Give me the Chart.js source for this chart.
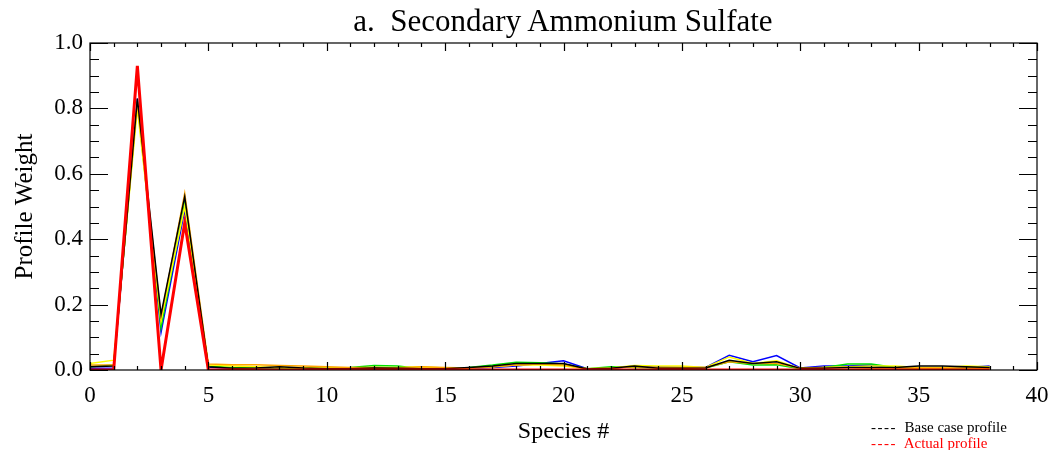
<!DOCTYPE html>
<html>
<head>
<meta charset="utf-8">
<script src="https://cdn.jsdelivr.net/npm/chart.js@4.4.1/dist/chart.umd.min.js"></script>
<style>
    html, body { margin: 0; padding: 0; background: #fff; }
    #wrap { position: relative; width: 1053px; height: 450px; }
    .title { position: absolute; left: 263px; width: 600px; top: 3px; text-align: center; font-family: 'Liberation Serif', serif; font-size: 31px; line-height: 36px; color: #000; }
    .legend { position: absolute; left: 871px; font-family: 'Liberation Serif', serif; font-size: 15px; line-height: 16px; white-space: pre; }
    .legend span { letter-spacing: 1.5px; }
</style>
</head>
<body>
<div id="wrap">
    <canvas id="chart" width="1053" height="450"></canvas>
    <div class="title">a.&nbsp; Secondary Ammonium Sulfate</div>
    <div class="legend" style="top:419px;color:#000"><span>----</span>  Base case profile</div>
    <div class="legend" style="top:435px;color:#ff0000"><span>----</span>  Actual profile</div>
</div>
<script>
// ── Data ──
const species = [0,1,2,3,4,5,6,7,8,9,10,11,12,13,14,15,16,17,18,19,20,21,22,23,24,25,26,27,28,29,30,31,32,33,34,35,36,37,38];

const actualProfile = [0,0,0.93,0,0.45,0,0,0,0,0,0,0,0,0,0,0,0,0,0,0,0,0,0,0,0,0,0,0,0,0,0,0,0,0,0,0,0,0,0];
const baseProfile   = [0.010,0.012,0.83,0.17,0.53,0.010,0.005,0.006,0.010,0.006,0.004,0.004,0.006,0.005,0.004,0.004,0.008,0.012,0.020,0.020,0.020,0.003,0.005,0.012,0.005,0.005,0.006,0.030,0.020,0.025,0.005,0.005,0.008,0.008,0.008,0.012,0.012,0.010,0.008];
const runBlue       = [0.005,0.006,0.83,0.115,0.49,0.008,0.005,0.004,0.005,0.004,0.003,0.004,0.004,0.003,0.002,0.003,0.005,0.008,0.012,0.020,0.028,0.004,0.004,0.012,0.010,0.008,0.008,0.045,0.025,0.044,0.006,0.012,0.012,0.015,0.006,0.002,0.004,0.008,0.012];
const runGreen      = [0.010,0.015,0.82,0.13,0.51,0.012,0.008,0.006,0.006,0.004,0.006,0.008,0.014,0.012,0.004,0.004,0.008,0.015,0.024,0.022,0.018,0.004,0.010,0.008,0.006,0.005,0.006,0.025,0.015,0.016,0.004,0.008,0.018,0.018,0.008,0.004,0.003,0.006,0.006];
const runYellow     = [0.020,0.030,0.80,0.15,0.50,0.015,0.012,0.010,0.008,0.008,0.006,0.006,0.008,0.008,0.010,0.006,0.006,0.010,0.015,0.015,0.012,0.004,0.006,0.014,0.012,0.012,0.008,0.040,0.020,0.028,0.005,0.008,0.010,0.012,0.012,0.008,0.008,0.012,0.010];
const runOrange     = [0.015,0.015,0.82,0.16,0.54,0.018,0.016,0.016,0.014,0.012,0.010,0.008,0.008,0.006,0.010,0.008,0.006,0.010,0.015,0.018,0.015,0.004,0.005,0.010,0.008,0.008,0.008,0.025,0.020,0.020,0.006,0.008,0.008,0.006,0.006,0.006,0.006,0.006,0.005];

const xTicks = [0,5,10,15,20,25,30,35,40];
const yTicks = [0,0.2,0.4,0.6,0.8,1.0];

const serif = "'Liberation Serif', 'Times New Roman', serif";

// ── Build series ──
function pts(values) {
    return species.map((s, i) => ({ x: s, y: values[i] }));
}

function series(label, values, color, width, order) {
    return {
        label: label,
        data: pts(values),
        borderColor: color,
        backgroundColor: color,
        borderWidth: width,
        pointRadius: 0,
        showLine: true,
        tension: 0,
        order: order
    };
}

// ── IDL-style box with inward ticks ──
const boxPlugin = {
    id: 'idlBox',
    afterDatasetsDraw(chart) {
        const { ctx, chartArea: a, scales } = chart;
        const xs = scales.x, ys = scales.y;
        ctx.save();
        ctx.strokeStyle = '#000';
        ctx.lineWidth = 1.2;
        ctx.strokeRect(a.left, a.top, a.right - a.left, a.bottom - a.top);
        ctx.beginPath();
        for (let v = 0; v <= 40; v += 1) {
            const px = Math.round(xs.getPixelForValue(v)) + 0.5;
            const len = v % 5 === 0 ? 8 : 4;
            ctx.moveTo(px, a.bottom); ctx.lineTo(px, a.bottom - len);
            ctx.moveTo(px, a.top); ctx.lineTo(px, a.top + len);
        }
        for (let i = 0; i <= 20; i++) {
            const v = i * 0.05;
            const py = Math.round(ys.getPixelForValue(v)) + 0.5;
            const len = i % 4 === 0 ? 18 : 9;
            ctx.moveTo(a.left, py); ctx.lineTo(a.left + len, py);
            ctx.moveTo(a.right, py); ctx.lineTo(a.right - len, py);
        }
        ctx.stroke();
        ctx.restore();
    }
};

const chart = new Chart(document.getElementById('chart'), {
    type: 'scatter',
    data: {
        datasets: [
            series('Actual profile', actualProfile, '#ff0000', 3, 0),
            series('Base case profile', baseProfile, '#000000', 1.5, 1),
            series('Run 1', runBlue, '#0000ff', 1.5, 5),
            series('Run 2', runGreen, '#00e000', 1.5, 4),
            series('Run 3', runYellow, '#ffff00', 1.5, 3),
            series('Run 4', runOrange, '#ffa500', 1.5, 2)
        ]
    },
    options: {
        responsive: false,
        animation: false,
        layout: { padding: { left: 0, right: 16, top: 43, bottom: 0 } },
        plugins: {
            legend: { display: false },
            tooltip: { enabled: false },
            title: { display: false }
        },
        scales: {
            x: {
                type: 'linear',
                min: 0,
                max: 40,
                afterBuildTicks: (s) => { s.ticks = xTicks.map(v => ({ value: v })); },
                afterFit: (s) => { s.height = 80; s.paddingLeft = 0; s.paddingRight = 0; },
                grid: { display: false, drawTicks: false },
                border: { display: false },
                ticks: { color: '#000', padding: 12, maxRotation: 0, font: { family: serif, size: 23 } },
                title: { display: true, text: 'Species #', color: '#000', padding: { top: 6 }, font: { family: serif, size: 24 } }
            },
            y: {
                type: 'linear',
                min: 0,
                max: 1.0,
                afterBuildTicks: (s) => { s.ticks = yTicks.map(v => ({ value: v })); },
                afterFit: (s) => { s.width = 90; s.paddingTop = 0; s.paddingBottom = 0; },
                grid: { display: false, drawTicks: false },
                border: { display: false },
                ticks: { color: '#000', padding: 7, callback: (v) => v.toFixed(1), font: { family: serif, size: 23 } },
                title: { display: true, text: 'Profile Weight', color: '#000', padding: { top: 10, bottom: 2 }, font: { family: serif, size: 25 } }
            }
        }
    },
    plugins: [boxPlugin]
});
</script>
</body>
</html>
